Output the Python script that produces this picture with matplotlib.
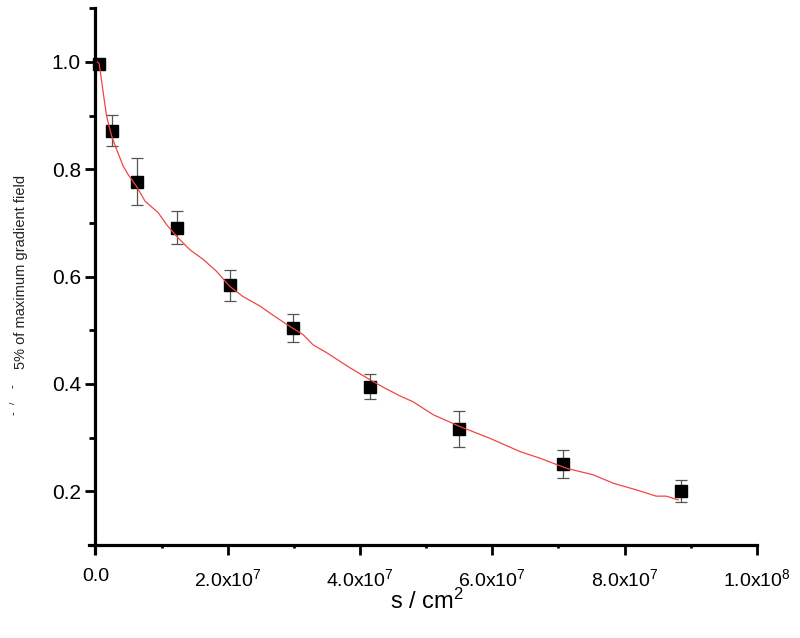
import matplotlib
matplotlib.use('Agg')
import matplotlib.pyplot as plt
from matplotlib.ticker import MultipleLocator, FuncFormatter
from matplotlib import font_manager
import math

# --- data ---
s_vals = [5e5, 2.5e6, 6.3e6, 1.23e7, 2.03e7, 2.98e7, 4.15e7, 5.49e7, 7.07e7, 8.85e7]
frac_vals = [0.996, 0.872, 0.777, 0.691, 0.584, 0.504, 0.395, 0.316, 0.251, 0.200]
frac_err = [0.0, 0.029, 0.044, 0.031, 0.029, 0.026, 0.0235, 0.034, 0.026, 0.0205]

fit_s = [0.03e7, 0.057e7, 0.118e7, 0.169e7, 0.245e7, 0.32e7, 0.42e7, 0.496e7, 0.623e7,
         0.748e7, 0.95e7, 1.076e7, 1.25e7, 1.43e7, 1.63e7, 1.83e7, 2.03e7, 2.23e7,
         2.49e7, 2.64e7, 2.94e7, 3.14e7, 3.29e7, 3.50e7, 3.85e7, 4.15e7, 4.35e7,
         4.60e7, 4.80e7, 5.11e7, 5.51e7, 5.96e7, 6.42e7, 6.72e7, 7.12e7, 7.53e7,
         7.83e7, 8.18e7, 8.48e7, 8.63e7, 8.81e7]
fit_frac = [1.000, 0.997, 0.943, 0.899, 0.862, 0.837, 0.806, 0.790, 0.768,
            0.741, 0.719, 0.697, 0.672, 0.650, 0.632, 0.610, 0.582, 0.563,
            0.545, 0.532, 0.507, 0.492, 0.473, 0.458, 0.430, 0.408, 0.394,
            0.378, 0.367, 0.3425, 0.3207, 0.299, 0.274, 0.2617, 0.243, 0.2306,
            0.215, 0.2026, 0.191, 0.191, 0.184]

x_label = "s / cm$^2$"
y_label = "5% of maximum gradient field"

names = {f.name for f in font_manager.fontManager.ttflist}
narrow = 'Liberation Sans Narrow' if 'Liberation Sans Narrow' in names else 'Liberation Sans'

plt.rcParams['font.family'] = ['Liberation Sans', 'DejaVu Sans']
plt.rcParams['mathtext.fontset'] = 'custom'
plt.rcParams['mathtext.rm'] = 'Liberation Sans'
plt.rcParams['mathtext.it'] = 'Liberation Sans'

fig = plt.figure(figsize=(8, 6.38), dpi=100)
ax = fig.add_axes([0.111, 0.1332, 0.835, 0.8538])
ax.set_xlim(-1e6, 1e8)
ax.set_ylim(0.085, 1.1)

for side in ['top', 'right']:
    ax.spines[side].set_visible(False)
ax.spines['left'].set_position(('data', 0))
ax.spines['bottom'].set_position(('data', 0.1))
ax.spines['left'].set_linewidth(2.3)
ax.spines['bottom'].set_linewidth(2.3)

ax.xaxis.set_major_locator(MultipleLocator(2e7))
ax.xaxis.set_minor_locator(MultipleLocator(1e7))
ax.yaxis.set_major_locator(MultipleLocator(0.2))
ax.yaxis.set_minor_locator(MultipleLocator(0.1))

def xfmt(v, pos):
    if abs(v) < 1:
        return "0.0"
    e = int(math.floor(math.log10(abs(v)) + 1e-9))
    m = v / 10 ** e
    return f"{m:.1f}x10$^{{{e}}}$"

ax.xaxis.set_major_formatter(FuncFormatter(xfmt))
ax.yaxis.set_major_formatter(FuncFormatter(lambda v, p: f"{v:.1f}"))

ax.tick_params(axis='both', which='major', direction='out', length=7.5, width=2.0,
               labelsize=15, pad=3)
ax.tick_params(axis='y', which='minor', direction='out', length=4, width=2.0)
ax.tick_params(axis='x', which='minor', direction='out', length=2.5, width=2.0)
ax.tick_params(axis='x', which='major', pad=9, labelsize=14)
for lab in ax.get_xticklabels():
    lab.set_fontfamily(narrow)

ax.errorbar(s_vals, frac_vals, yerr=frac_err, fmt='none', ecolor='#555555',
            elinewidth=0.9, capsize=4, capthick=0.9, zorder=2)
ax.plot(s_vals, frac_vals, 's', color='black', ms=8, zorder=3)
ax.plot(fit_s, fit_frac, '-', color='#f24545', lw=0.9, zorder=4)

fig.text(0.534, 0.057, x_label, ha='center', va='center', fontsize=17)
fig.text(0.026, 0.5737, y_label, rotation=90, ha='center', va='center', fontsize=10.5,
         color='#222222')
fig.text(0.016, 1 - 386 / 638, '-', rotation=90, ha='center', va='center', fontsize=8)
fig.text(0.017, 1 - 403 / 638, '/', rotation=90, ha='center', va='center', fontsize=6)
fig.text(0.017, 1 - 413 / 638, '-', rotation=90, ha='center', va='center', fontsize=8)

fig.savefig('out.png', dpi=100)
